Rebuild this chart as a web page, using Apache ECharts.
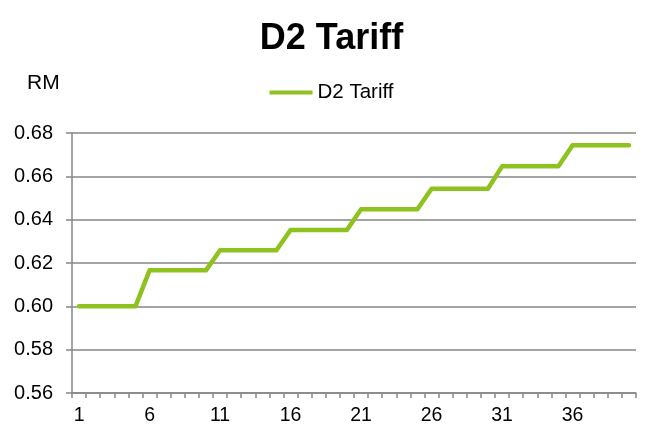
<!DOCTYPE html>
<html><head><meta charset="utf-8">
<script src="https://cdn.jsdelivr.net/npm/echarts@6/dist/echarts.min.js"></script>
<style>html,body{margin:0;padding:0;background:#fff}#c{width:663px;height:442px}</style>
</head><body><div id="c"></div>
<script>
const titleText = 'D2 Tariff';
const seriesName = 'D2 Tariff';
const unitLabel = 'RM';
const categories = ['1','2','3','4','5','6','7','8','9','10','11','12','13','14','15','16','17','18','19','20','21','22','23','24','25','26','27','28','29','30','31','32','33','34','35','36','37','38','39','40'];
const values = [0.600,0.600,0.600,0.600,0.600,
  0.6166,0.6166,0.6166,0.6166,0.6166,
  0.6259,0.6259,0.6259,0.6259,0.6259,
  0.6352,0.6352,0.6352,0.6352,0.6352,
  0.6448,0.6448,0.6448,0.6448,0.6448,
  0.6543,0.6543,0.6543,0.6543,0.6543,
  0.6646,0.6646,0.6646,0.6646,0.6646,
  0.6743,0.6743,0.6743,0.6743,0.6743];
const yMin = 0.56, yMax = 0.68, yStep = 0.02;

const font = '"Liberation Sans", Arial, sans-serif';
const chart = echarts.init(document.getElementById('c'));
chart.setOption({
  animation: false,
  backgroundColor: '#fff',
  title: { text: titleText, left: 'center', top: 16,
    textStyle: { fontFamily: font, fontSize: 36, fontWeight: 'bold', color: '#000' } },
  legend: { data: [{ name: seriesName, icon: 'rect' }], left: 'center', top: 77,
    itemWidth: 43, itemHeight: 4, itemGap: 4,
    textStyle: { fontFamily: font, fontSize: 20.5, color: '#000' } },
  graphic: [{ type: 'text', left: 27, top: 73,
    style: { text: unitLabel, font: '21px ' + font, fill: '#000' } }],
  grid: { left: 72, right: 27, top: 133, bottom: 49, containLabel: false },
  xAxis: {
    type: 'category', data: categories, boundaryGap: true,
    axisLine: { lineStyle: { color: '#868686', width: 1.5 } },
    axisTick: { show: true, interval: 0, length: 5, lineStyle: { color: '#868686', width: 1.5 } },
    axisLabel: { interval: 4, margin: 13, fontFamily: font, fontSize: 19.5, color: '#000' }
  },
  yAxis: {
    type: 'value', min: yMin, max: yMax, interval: yStep,
    axisLine: { show: true, lineStyle: { color: '#868686', width: 1.5 } },
    axisTick: { show: true, length: 6, lineStyle: { color: '#868686', width: 1.5 } },
    splitLine: { lineStyle: { color: '#868686', width: 1.5 } },
    axisLabel: { margin: 19, fontFamily: font, fontSize: 20, color: '#000',
      formatter: v => v.toFixed(2) }
  },
  series: [{
    name: seriesName, type: 'line', data: values, symbol: 'none',
    lineStyle: { color: '#8dc21f', width: 4.5, join: 'round', cap: 'round' },
    itemStyle: { color: '#8dc21f' }
  }]
});
</script></body></html>
